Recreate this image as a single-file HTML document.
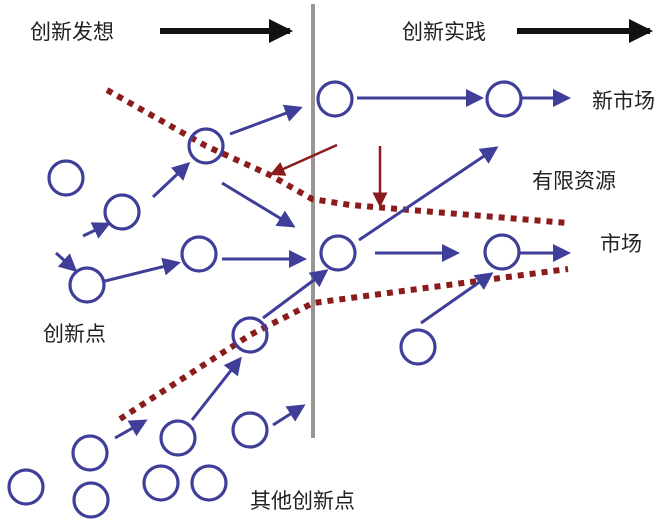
<!DOCTYPE html>
<html><head><meta charset="utf-8"><style>
html,body{margin:0;padding:0;background:#fff;}
svg{display:block;}
text{font-family:"Liberation Sans","Noto Sans CJK SC",sans-serif;font-size:21px;fill:#222;}
</style></head><body>
<svg width="672" height="528" viewBox="0 0 672 528" xmlns="http://www.w3.org/2000/svg">
<defs>
<marker id="b" markerWidth="6" markerHeight="6" refX="5" refY="3" orient="auto" markerUnits="strokeWidth"><path d="M0,0 L6,3 L0,6 z" fill="#3f3f9a"/></marker>
<marker id="r" markerWidth="6" markerHeight="6" refX="5" refY="3" orient="auto" markerUnits="strokeWidth"><path d="M0,0 L6,3 L0,6 z" fill="#8b1c1c"/></marker>
<marker id="k" markerWidth="4" markerHeight="4" refX="3.5" refY="2" orient="auto" markerUnits="strokeWidth"><path d="M0,0 L4,2 L0,4 z" fill="#111"/></marker>
</defs>
<text x="30" y="39">创新发想</text>
<text x="402" y="39">创新实践</text>
<line x1="160" y1="31" x2="290" y2="31" stroke="#111" stroke-width="6" marker-end="url(#k)"/>
<line x1="517" y1="31" x2="650" y2="31" stroke="#111" stroke-width="6" marker-end="url(#k)"/>
<line x1="313" y1="4" x2="313" y2="438" stroke="#9a9696" stroke-width="4"/>
<g fill="none" stroke="#8b1c1c" stroke-width="6" stroke-dasharray="6,6">
<path d="M107,90 L206,146 L270,175 L312,199 L350,205 L568,223"/>
<path d="M120,419 L250,335 L313,303 L568,269"/>
</g>
<g fill="none" stroke="#3f3f9a" stroke-width="3.2">
<circle cx="66" cy="178" r="17"/>
<circle cx="122" cy="212" r="17"/>
<circle cx="206" cy="146" r="17"/>
<circle cx="87" cy="285" r="17"/>
<circle cx="199" cy="254" r="17"/>
<circle cx="335" cy="99" r="17"/>
<circle cx="504" cy="99" r="17"/>
<circle cx="338" cy="253" r="17"/>
<circle cx="502" cy="252" r="17"/>
<circle cx="418" cy="347" r="17"/>
<circle cx="250" cy="335" r="17"/>
<circle cx="90" cy="453" r="17"/>
<circle cx="178" cy="438" r="17"/>
<circle cx="250" cy="430" r="17"/>
<circle cx="26" cy="487" r="17"/>
<circle cx="91" cy="500" r="17"/>
<circle cx="161" cy="483" r="17"/>
<circle cx="209" cy="483" r="17"/>
</g>
<g stroke="#3f3f9a" stroke-width="3" marker-end="url(#b)">
<line x1="230" y1="134" x2="300" y2="108"/>
<line x1="153" y1="197" x2="188" y2="164"/>
<line x1="83" y1="236" x2="108" y2="224"/>
<line x1="56" y1="253" x2="75" y2="270"/>
<line x1="105" y1="281" x2="178" y2="263"/>
<line x1="222" y1="183" x2="293" y2="226"/>
<line x1="222" y1="259" x2="304" y2="259"/>
<line x1="263" y1="318" x2="326" y2="271"/>
<line x1="357" y1="98" x2="481" y2="98"/>
<line x1="521" y1="98" x2="568" y2="98"/>
<line x1="359" y1="240" x2="496" y2="148"/>
<line x1="375" y1="253" x2="457" y2="253"/>
<line x1="519" y1="253" x2="568" y2="253"/>
<line x1="421" y1="323" x2="491" y2="274"/>
<line x1="115" y1="438" x2="145" y2="421"/>
<line x1="192" y1="420" x2="240" y2="359"/>
<line x1="273" y1="425" x2="303" y2="406"/>
</g>
<g stroke="#8b1c1c" stroke-width="2.5" marker-end="url(#r)">
<line x1="337" y1="145" x2="272" y2="174"/>
<line x1="380" y1="146" x2="380" y2="205"/>
</g>
<text x="592" y="108">新市场</text>
<text x="532" y="188">有限资源</text>
<text x="600" y="251">市场</text>
<text x="43" y="341">创新点</text>
<text x="250" y="508">其他创新点</text>
</svg>
</body></html>
